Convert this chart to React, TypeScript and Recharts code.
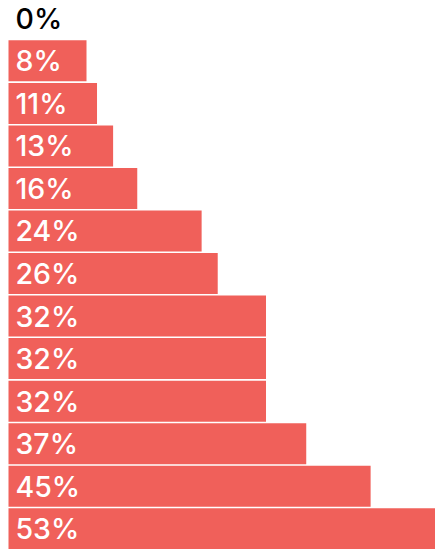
import React from "react";
import { BarChart, Bar, XAxis, YAxis, LabelList, Cell } from "recharts";

const categories = ["r1", "r2", "r3", "r4", "r5", "r6", "r7", "r8", "r9", "r10", "r11", "r12", "r13"];
const values = [0, 8, 11, 13, 16, 24, 26, 32, 32, 32, 37, 45, 53];
const labels = ["0%", "8%", "11%", "13%", "16%", "24%", "26%", "32%", "32%", "32%", "37%", "45%", "53%"];

const data = categories.map((c, i) => ({ name: c, value: values[i], label: labels[i] }));

const BAR_COLOR = "#F0605A";

const renderLabel = (props: any) => {
  const { x, y, height, value } = props;
  const isZero = value === "0%";
  return (
    <text
      x={Number(x) + 7}
      y={Number(y) + Number(height) / 2 + 10.5}
      fill={isZero ? "#000000" : "#FFFFFF"}
      fontSize={28.5}
      fontWeight={450}
      fontFamily="Inter, sans-serif"
      textAnchor="start"
    >
      {value}
    </text>
  );
};

export default function App() {
  return (
    <div style={{ position: "absolute", left: 0, top: -3 }}>
      <BarChart
        width={440}
        height={553}
        data={data}
        layout="vertical"
        margin={{ top: 0, right: 5, bottom: 0, left: 8.5 }}
        barCategoryGap={0.8}
      >
        <XAxis type="number" domain={[0, 53]} hide />
        <YAxis type="category" dataKey="name" hide />
        <Bar
          dataKey="value"
          fill={BAR_COLOR}
          isAnimationActive={false}
          minPointSize={(v: any) => (Number(v) > 0 ? 78 : 1)}
        >
          {data.map((d) => (
            <Cell key={d.name} fill={d.value > 0 ? BAR_COLOR : "transparent"} />
          ))}
          <LabelList dataKey="label" content={renderLabel} />
        </Bar>
      </BarChart>
    </div>
  );
}
